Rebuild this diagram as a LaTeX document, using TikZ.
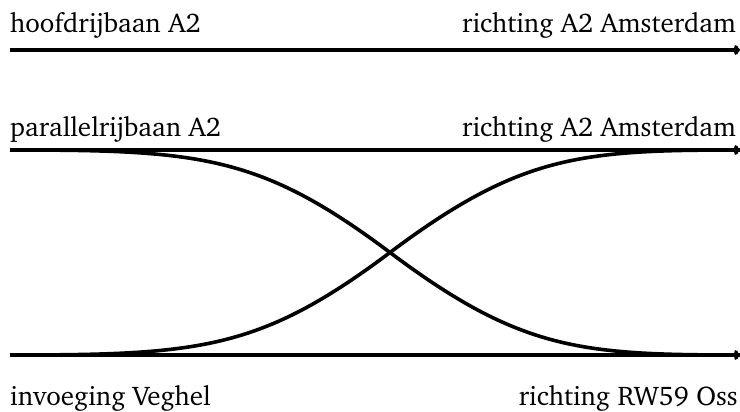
\documentclass[tikz,border=0pt]{standalone}
\usepackage[T1]{fontenc}
\usepackage{charter}
\usetikzlibrary{arrows.meta}
\tikzset{
  every picture/.append style={>={To[length=6pt,width=10pt]}},
  weg/.style={line width=3.6pt, draw=black},
  pijl/.style={weg, ->},
  lbl/.style={inner sep=0pt, font=\fontsize{27}{32}\selectfont},
}
\begin{document}
\begin{tikzpicture}[x=1pt,y=-1pt]
\useasboundingbox (0,0) rectangle (740,412);

% ---------------- end points of the lanes ----------------
\coordinate (hL) at (10,50);  \coordinate (hR) at (740,50);
\coordinate (pL) at (10,150); \coordinate (pR) at (740,150);
\coordinate (iL) at (10,355); \coordinate (iR) at (740,355);
\coordinate (kruis) at (390,252.5);

% ---------------- labels ----------------
\node[lbl, anchor=base west] (hoofd) at (10,33) {hoofdrijbaan A2};
\node[lbl, anchor=base east] (ams1) at (736,33) {richting A2 Amsterdam};
\node[lbl, anchor=base west] (par) at (10,137) {parallelrijbaan A2};
\node[lbl, anchor=base east] (ams2) at (736,137) {richting A2 Amsterdam};
\node[lbl, anchor=base west] (veg) at (10,405) {invoeging Veghel};
\node[lbl, anchor=base east] (oss) at (738,405) {richting RW59 Oss};

% ---------------- lanes ----------------
\draw[pijl] (hL) -- (hR);
\draw[pijl] (pL) -- (pR);
\draw[pijl] (iL) -- (iR);

% ---------------- weaving ----------------
\draw[weg] (pL) .. controls (200,150) and (260,155) .. (kruis)
                .. controls (520,350) and (580,355) .. (iR);
\draw[weg] (iL) .. controls (200,355) and (260,350) .. (kruis)
                .. controls (520,155) and (580,150) .. (pR);

\end{tikzpicture}
\end{document}
